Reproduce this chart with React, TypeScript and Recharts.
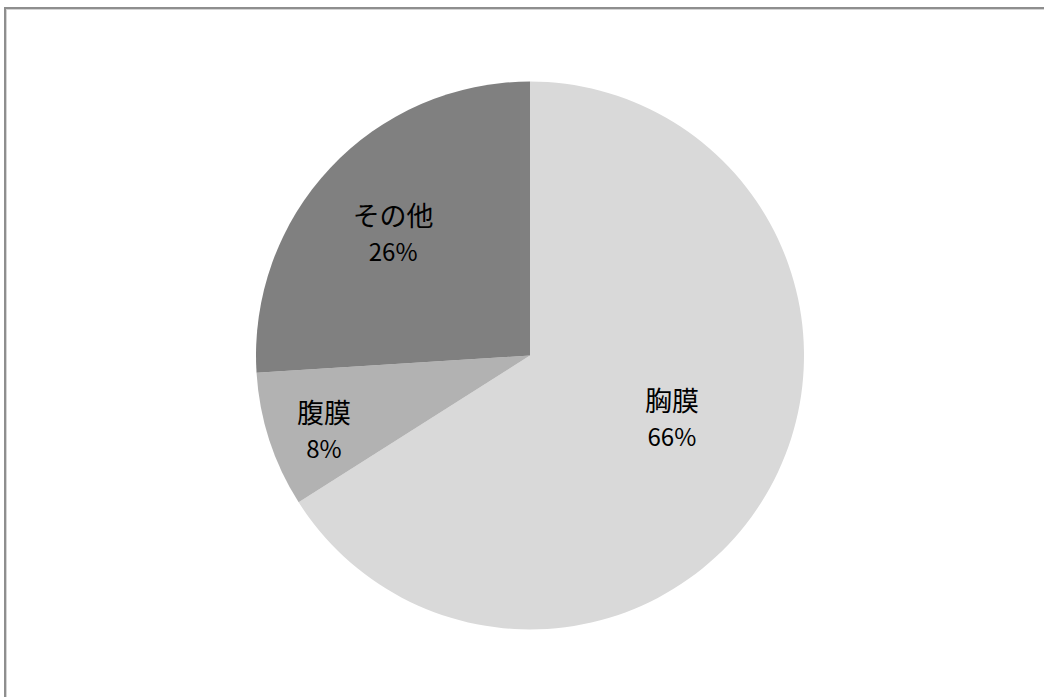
import { Cell, Pie, PieChart } from "recharts";

const names = ["胸膜", "腹膜", "その他"];
const shares = [66, 8, 26];
const fills = ["#d9d9d9", "#b2b2b2", "#808080"];

// label placement: distance out (share of radius) and a small turn off the mid angle
const LABEL_RADIUS = [0.567, 0.801, 0.668];
const LABEL_TURN = [4.8, 2.1, 1.6];

const data = names.map((name, i) => ({ name, value: shares[i] }));

const RADIAN = Math.PI / 180;
const FONT = "'Noto Sans CJK JP', 'Noto Sans', sans-serif";

function SliceLabel(props: any) {
  const { cx, cy, midAngle, outerRadius, index, name, value } = props;
  const r = outerRadius * LABEL_RADIUS[index];
  const a = midAngle + LABEL_TURN[index];
  const x = cx + r * Math.cos(-a * RADIAN);
  const y = cy + r * Math.sin(-a * RADIAN) - 1.5;
  return (
    <text x={x} y={y} textAnchor="middle" fill="#000" style={{ fontFamily: FONT }}>
      <tspan x={x} y={y - 18} dominantBaseline="central" style={{ fontSize: 27 }}>
        {name}
      </tspan>
      <tspan x={x} y={y + 18} dominantBaseline="central" style={{ fontSize: 24 }}>
        {value}%
      </tspan>
    </text>
  );
}

export default function App() {
  return (
    <div
      style={{
        position: "fixed",
        left: 0,
        top: 0,
        width: 1044,
        height: 697,
        overflow: "hidden",
        background: "#fff",
      }}
    >
      {/* chart frame, open on the right and bottom */}
      <div
        style={{
          position: "absolute",
          left: 4,
          top: 7,
          width: 1100,
          height: 800,
          border: "2px solid #8e8e8e",
          boxShadow: "inset 1px 1px 0 #d4d4d4",
        }}
      />
      <div style={{ position: "absolute", left: 0, top: 0 }}>
        <PieChart width={1044} height={697} margin={{ top: 0, right: 0, bottom: 0, left: 0 }}>
          <Pie
            data={data}
            dataKey="value"
            nameKey="name"
            cx={530}
            cy={355.5}
            outerRadius={274}
            startAngle={90}
            endAngle={-270}
            stroke="none"
            label={SliceLabel}
            labelLine={false}
            isAnimationActive={false}
          >
            {data.map((d, i) => (
              <Cell key={d.name} fill={fills[i]} />
            ))}
          </Pie>
        </PieChart>
      </div>
    </div>
  );
}
